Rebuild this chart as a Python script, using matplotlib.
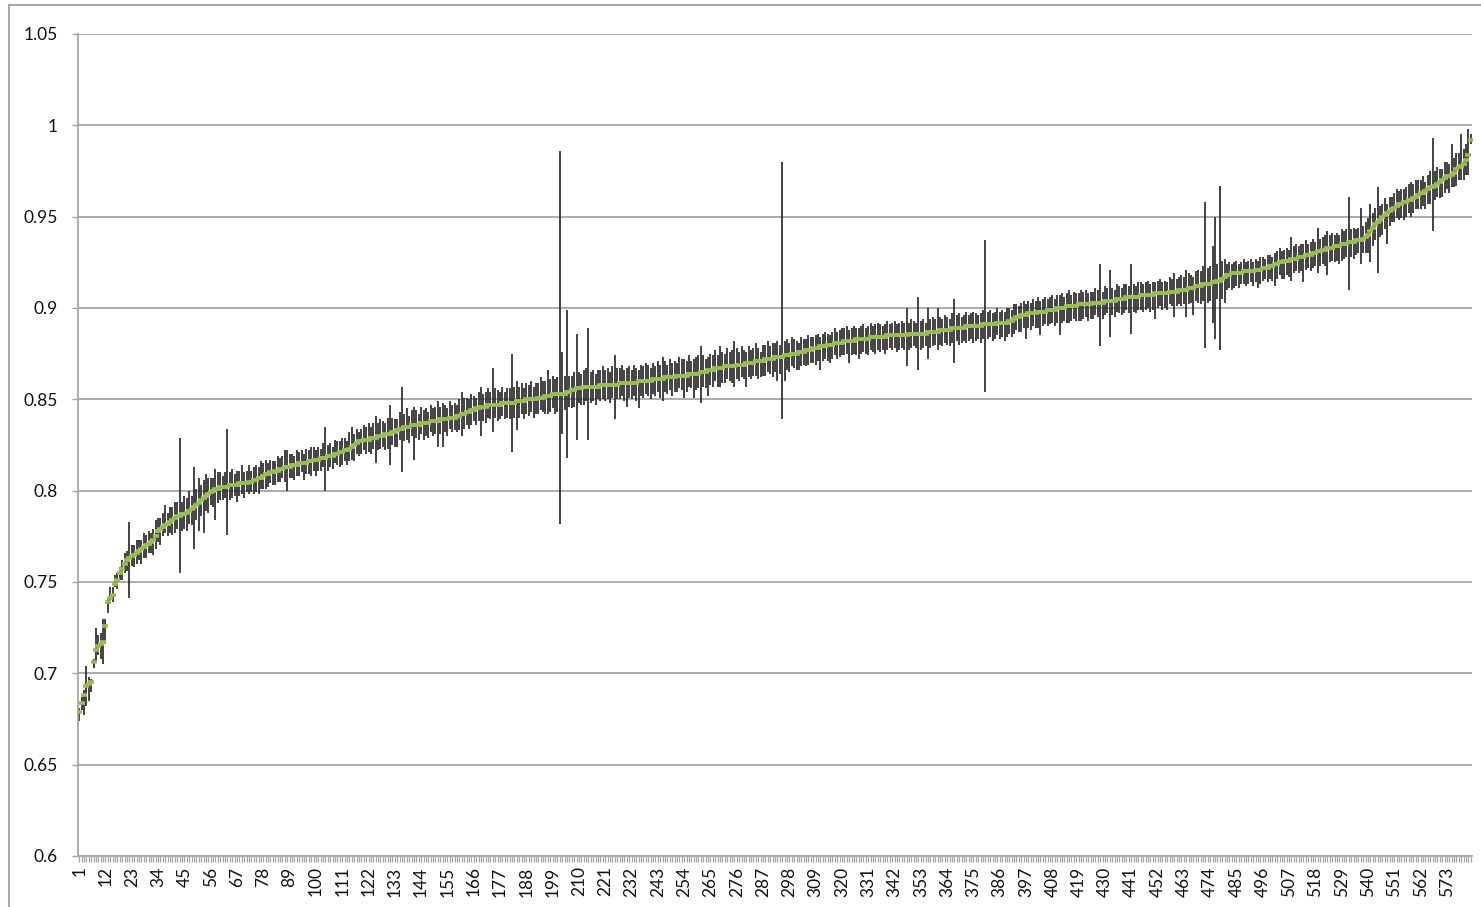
import numpy as np
import matplotlib
matplotlib.use("Agg")
import matplotlib.pyplot as plt
from matplotlib.patches import Rectangle

# mean value per category (sorted ascending)
mean_vals = [
    0.679, 0.684, 0.688, 0.693, 0.694, 0.695, 0.706, 0.713, 0.715, 0.716,
    0.717, 0.726, 0.739, 0.741, 0.743, 0.749, 0.751, 0.755, 0.757, 0.760,
    0.762, 0.763, 0.764, 0.765, 0.766, 0.767, 0.768, 0.769, 0.770, 0.771,
    0.772, 0.773, 0.775, 0.778, 0.779, 0.780, 0.781, 0.782, 0.783, 0.784,
    0.785, 0.786, 0.786, 0.787, 0.787, 0.788, 0.789, 0.790, 0.791, 0.792,
    0.793, 0.795, 0.796, 0.797, 0.798, 0.799, 0.800, 0.801, 0.801, 0.802,
    0.802, 0.802, 0.802, 0.803, 0.803, 0.803, 0.803, 0.804, 0.804, 0.804,
    0.804, 0.805, 0.805, 0.806, 0.806, 0.807, 0.807, 0.808, 0.809, 0.809,
    0.810, 0.810, 0.811, 0.811, 0.812, 0.812, 0.813, 0.813, 0.813, 0.814,
    0.814, 0.814, 0.815, 0.815, 0.815, 0.815, 0.816, 0.816, 0.817, 0.817,
    0.817, 0.818, 0.818, 0.818, 0.819, 0.819, 0.819, 0.820, 0.820, 0.821,
    0.821, 0.822, 0.822, 0.823, 0.824, 0.825, 0.826, 0.827, 0.827, 0.828,
    0.828, 0.828, 0.829, 0.829, 0.829, 0.830, 0.830, 0.830, 0.831, 0.831,
    0.831, 0.832, 0.832, 0.833, 0.834, 0.834, 0.835, 0.835, 0.835, 0.836,
    0.836, 0.836, 0.836, 0.837, 0.837, 0.837, 0.837, 0.838, 0.838, 0.838,
    0.838, 0.839, 0.839, 0.839, 0.839, 0.840, 0.840, 0.840, 0.841, 0.841,
    0.842, 0.842, 0.843, 0.843, 0.844, 0.844, 0.845, 0.845, 0.846, 0.846,
    0.846, 0.847, 0.847, 0.847, 0.847, 0.847, 0.847, 0.848, 0.848, 0.848,
    0.848, 0.848, 0.848, 0.849, 0.849, 0.849, 0.849, 0.850, 0.850, 0.850,
    0.850, 0.850, 0.851, 0.851, 0.851, 0.852, 0.852, 0.852, 0.853, 0.853,
    0.853, 0.853, 0.853, 0.853, 0.854, 0.854, 0.855, 0.855, 0.856, 0.856,
    0.856, 0.857, 0.857, 0.857, 0.857, 0.857, 0.857, 0.857, 0.858, 0.858,
    0.858, 0.858, 0.858, 0.858, 0.858, 0.858, 0.859, 0.859, 0.859, 0.859,
    0.859, 0.859, 0.859, 0.859, 0.860, 0.860, 0.860, 0.860, 0.860, 0.860,
    0.861, 0.861, 0.861, 0.861, 0.861, 0.862, 0.862, 0.862, 0.862, 0.862,
    0.863, 0.863, 0.863, 0.863, 0.863, 0.864, 0.864, 0.864, 0.864, 0.864,
    0.865, 0.865, 0.865, 0.866, 0.866, 0.866, 0.867, 0.867, 0.867, 0.867,
    0.868, 0.868, 0.868, 0.868, 0.868, 0.869, 0.869, 0.869, 0.869, 0.870,
    0.870, 0.870, 0.870, 0.871, 0.871, 0.871, 0.871, 0.872, 0.872, 0.872,
    0.872, 0.873, 0.873, 0.873, 0.873, 0.874, 0.874, 0.874, 0.875, 0.875,
    0.875, 0.876, 0.876, 0.876, 0.877, 0.877, 0.877, 0.878, 0.878, 0.878,
    0.879, 0.879, 0.879, 0.880, 0.880, 0.880, 0.881, 0.881, 0.881, 0.881,
    0.882, 0.882, 0.882, 0.882, 0.882, 0.883, 0.883, 0.883, 0.883, 0.883,
    0.883, 0.884, 0.884, 0.884, 0.884, 0.884, 0.884, 0.884, 0.885, 0.885,
    0.885, 0.885, 0.885, 0.885, 0.885, 0.885, 0.885, 0.886, 0.886, 0.886,
    0.886, 0.886, 0.886, 0.886, 0.886, 0.887, 0.887, 0.887, 0.887, 0.887,
    0.888, 0.888, 0.888, 0.888, 0.888, 0.889, 0.889, 0.889, 0.889, 0.889,
    0.889, 0.890, 0.890, 0.890, 0.890, 0.890, 0.890, 0.890, 0.891, 0.891,
    0.891, 0.891, 0.891, 0.891, 0.892, 0.892, 0.892, 0.892, 0.892, 0.893,
    0.893, 0.894, 0.895, 0.895, 0.896, 0.896, 0.896, 0.897, 0.897, 0.897,
    0.897, 0.898, 0.898, 0.898, 0.898, 0.899, 0.899, 0.899, 0.899, 0.900,
    0.900, 0.900, 0.900, 0.901, 0.901, 0.901, 0.901, 0.901, 0.902, 0.902,
    0.902, 0.902, 0.902, 0.902, 0.903, 0.903, 0.903, 0.903, 0.903, 0.904,
    0.904, 0.904, 0.904, 0.904, 0.905, 0.905, 0.905, 0.905, 0.906, 0.906,
    0.906, 0.906, 0.906, 0.906, 0.907, 0.907, 0.907, 0.907, 0.907, 0.907,
    0.908, 0.908, 0.908, 0.908, 0.908, 0.908, 0.909, 0.909, 0.909, 0.909,
    0.910, 0.910, 0.910, 0.910, 0.911, 0.911, 0.911, 0.912, 0.912, 0.912,
    0.913, 0.913, 0.913, 0.913, 0.914, 0.914, 0.915, 0.915, 0.916, 0.917,
    0.918, 0.918, 0.919, 0.919, 0.919, 0.919, 0.919, 0.920, 0.920, 0.920,
    0.920, 0.920, 0.921, 0.921, 0.921, 0.922, 0.922, 0.922, 0.923, 0.923,
    0.924, 0.924, 0.925, 0.925, 0.926, 0.926, 0.926, 0.927, 0.927, 0.927,
    0.928, 0.928, 0.928, 0.929, 0.929, 0.929, 0.930, 0.930, 0.931, 0.931,
    0.932, 0.932, 0.933, 0.933, 0.933, 0.934, 0.934, 0.934, 0.935, 0.935,
    0.935, 0.936, 0.936, 0.936, 0.937, 0.937, 0.937, 0.938, 0.939, 0.940,
    0.942, 0.944, 0.946, 0.947, 0.948, 0.950, 0.951, 0.952, 0.953, 0.954,
    0.955, 0.956, 0.957, 0.957, 0.958, 0.958, 0.959, 0.959, 0.960, 0.961,
    0.962, 0.963, 0.963, 0.964, 0.965, 0.966, 0.966, 0.967, 0.968, 0.969,
    0.970, 0.971, 0.972, 0.972, 0.973, 0.974, 0.976, 0.977, 0.978, 0.979,
    0.981, 0.984, 0.992,
]

# distance from mean down to the low end, in thousandths
err_lo = [
    5, 4, 11, 11, 9, 5, 3, 6, 5, 8, 12, 10, 6, 3, 4, 2, 5, 4, 6, 5,
    6, 22, 5, 7, 6, 5, 8, 6, 7, 5, 6, 8, 7, 6, 9, 5, 4, 7, 6, 8,
    8, 7, 31, 9, 8, 10, 7, 9, 23, 8, 15, 9, 19, 8, 10, 7, 9, 17, 8, 7,
    7, 6, 26, 8, 7, 6, 9, 7, 6, 8, 5, 7, 6, 8, 7, 9, 6, 7, 8, 7,
    6, 7, 8, 6, 7, 5, 8, 13, 6, 7, 8, 6, 7, 5, 9, 6, 7, 8, 6, 9,
    6, 7, 5, 18, 8, 6, 7, 5, 6, 8, 7, 6, 8, 7, 7, 9, 6, 8, 7, 6,
    8, 7, 9, 6, 14, 8, 7, 6, 9, 8, 17, 7, 8, 9, 6, 24, 8, 7, 9, 6,
    19, 7, 8, 6, 9, 7, 8, 6, 8, 7, 14, 8, 15, 7, 9, 6, 8, 7, 9, 8,
    12, 8, 7, 9, 8, 6, 9, 7, 16, 8, 9, 7, 8, 15, 7, 9, 8, 7, 9, 8,
    9, 27, 8, 16, 9, 7, 10, 8, 9, 7, 10, 8, 9, 7, 8, 10, 10, 9, 8, 11,
    10, 71, 22, 9, 36, 8, 10, 9, 28, 8, 9, 10, 8, 29, 9, 8, 10, 7, 9, 8,
    9, 8, 10, 7, 19, 8, 9, 7, 10, 13, 8, 9, 7, 10, 15, 8, 9, 7, 8, 10,
    8, 9, 7, 10, 12, 8, 9, 7, 10, 8, 9, 7, 8, 12, 9, 7, 8, 13, 9, 8,
    17, 8, 9, 14, 8, 9, 7, 10, 10, 8, 9, 7, 8, 9, 11, 8, 9, 7, 8, 13,
    8, 9, 7, 8, 10, 9, 8, 9, 7, 8, 10, 8, 13, 9, 34, 14, 8, 9, 7, 8,
    9, 10, 8, 7, 9, 8, 7, 8, 9, 7, 13, 8, 7, 9, 10, 8, 7, 9, 8, 7,
    8, 7, 12, 8, 7, 9, 11, 8, 7, 8, 9, 7, 8, 9, 7, 8, 7, 9, 8, 7,
    8, 7, 9, 8, 7, 8, 17, 9, 8, 7, 8, 20, 9, 8, 7, 15, 9, 8, 7, 10,
    8, 9, 7, 8, 9, 8, 19, 7, 9, 8, 7, 9, 8, 7, 9, 8, 7, 9, 8, 37,
    8, 7, 9, 8, 7, 9, 8, 10, 8, 7, 9, 8, 7, 8, 9, 7, 13, 8, 9, 7,
    8, 9, 13, 8, 7, 9, 8, 7, 9, 8, 15, 8, 7, 9, 9, 8, 7, 8, 9, 9,
    8, 7, 9, 8, 9, 7, 8, 24, 9, 8, 7, 20, 8, 9, 7, 8, 9, 8, 7, 9,
    20, 8, 9, 7, 8, 9, 8, 7, 9, 8, 14, 8, 7, 9, 8, 9, 7, 8, 14, 8,
    8, 9, 8, 15, 9, 8, 15, 8, 9, 10, 9, 35, 10, 9, 22, 31, 10, 38, 11, 14,
    8, 7, 9, 8, 7, 8, 6, 7, 8, 7, 6, 8, 7, 10, 8, 7, 6, 8, 7, 8,
    12, 8, 7, 9, 10, 8, 9, 12, 8, 7, 9, 8, 14, 8, 7, 9, 8, 7, 12, 8,
    8, 9, 15, 8, 7, 9, 8, 10, 9, 8, 7, 26, 8, 9, 8, 7, 13, 8, 9, 10,
    17, 10, 9, 28, 9, 10, 8, 17, 8, 7, 8, 7, 9, 8, 10, 8, 7, 9, 8, 7,
    8, 9, 7, 10, 8, 9, 24, 8, 7, 9, 9, 8, 7, 9, 7, 8, 9, 7, 8, 9,
    8, 11, 2,
]

# distance from mean up to the high end, in thousandths
err_hi = [
    2, 3, 3, 11, 4, 2, 2, 12, 6, 6, 13, 4, 3, 6, 4, 5, 4, 3, 5, 6,
    5, 20, 6, 5, 7, 6, 5, 8, 6, 7, 5, 6, 9, 7, 6, 8, 11, 6, 8, 7,
    9, 8, 43, 7, 10, 8, 11, 7, 22, 9, 14, 8, 10, 12, 9, 8, 7, 11, 9, 8,
    6, 8, 32, 7, 9, 6, 8, 7, 10, 6, 7, 9, 6, 7, 8, 6, 9, 7, 8, 6,
    7, 6, 5, 8, 6, 7, 9, 9, 7, 6, 5, 8, 6, 7, 5, 8, 6, 8, 7, 5,
    7, 5, 8, 17, 6, 7, 5, 8, 7, 6, 8, 7, 5, 9, 11, 6, 8, 5, 7, 8,
    7, 9, 6, 8, 12, 7, 9, 8, 6, 9, 16, 8, 7, 6, 9, 23, 7, 10, 6, 8,
    10, 8, 6, 9, 7, 8, 6, 9, 7, 8, 11, 7, 9, 8, 6, 9, 7, 8, 6, 9,
    12, 9, 8, 7, 9, 8, 6, 9, 11, 7, 8, 9, 7, 20, 9, 8, 7, 9, 6, 8,
    8, 27, 9, 11, 8, 10, 7, 9, 8, 10, 7, 9, 8, 11, 9, 8, 14, 9, 10, 8,
    9, 133, 23, 10, 45, 9, 8, 10, 30, 9, 8, 9, 10, 32, 8, 9, 7, 9, 8, 10,
    8, 9, 7, 10, 16, 9, 8, 10, 7, 8, 9, 7, 10, 8, 6, 9, 8, 10, 9, 7,
    9, 7, 10, 8, 12, 9, 7, 10, 8, 9, 7, 10, 9, 9, 8, 10, 7, 8, 9, 10,
    14, 9, 7, 7, 9, 8, 10, 7, 12, 9, 7, 10, 8, 9, 14, 9, 7, 10, 8, 6,
    9, 7, 8, 10, 7, 5, 9, 8, 10, 7, 9, 8, 9, 7, 107, 8, 9, 7, 9, 8,
    7, 5, 8, 7, 6, 8, 7, 6, 7, 8, 5, 7, 8, 6, 5, 7, 8, 6, 7, 8,
    7, 8, 6, 7, 8, 6, 6, 7, 8, 6, 7, 8, 6, 7, 8, 7, 6, 7, 8, 6,
    7, 8, 6, 7, 8, 7, 15, 6, 8, 7, 6, 20, 7, 8, 6, 13, 7, 8, 7, 13,
    7, 6, 8, 7, 6, 8, 16, 7, 8, 6, 7, 8, 6, 7, 8, 7, 6, 7, 8, 46,
    7, 8, 6, 7, 8, 6, 7, 6, 8, 7, 6, 8, 7, 6, 7, 8, 6, 7, 6, 8,
    7, 8, 6, 7, 8, 6, 7, 8, 6, 7, 7, 8, 6, 7, 9, 6, 8, 7, 6, 8,
    7, 8, 6, 7, 6, 8, 7, 21, 6, 8, 7, 17, 7, 6, 8, 7, 6, 8, 7, 6,
    18, 7, 6, 8, 7, 6, 7, 8, 6, 7, 6, 7, 8, 6, 7, 6, 8, 7, 10, 7,
    7, 8, 7, 11, 8, 7, 6, 8, 9, 8, 10, 45, 9, 10, 20, 36, 9, 52, 10, 10,
    6, 7, 5, 6, 7, 5, 6, 7, 5, 6, 7, 5, 6, 5, 7, 6, 5, 7, 6, 5,
    6, 7, 8, 6, 6, 7, 6, 12, 7, 8, 6, 7, 7, 8, 6, 7, 8, 6, 13, 7,
    7, 8, 9, 7, 8, 6, 7, 6, 8, 7, 8, 25, 7, 8, 6, 7, 18, 7, 8, 9,
    15, 8, 9, 19, 8, 7, 9, 5, 8, 7, 8, 9, 7, 8, 7, 8, 9, 10, 8, 9,
    8, 7, 9, 5, 8, 9, 27, 8, 9, 7, 6, 9, 8, 7, 17, 8, 9, 8, 17, 8,
    9, 14, 3,
]

y_ticks = [0.6, 0.65, 0.7, 0.75, 0.8, 0.85, 0.9, 0.95, 1.0, 1.05]

n = len(mean_vals)
cats = np.arange(1, n + 1)
mean = np.array(mean_vals)
low = mean - np.array(err_lo[:n]) / 1000.0
high = mean + np.array(err_hi[:n]) / 1000.0

plt.rcParams['font.family'] = ['Lato', 'DejaVu Sans']
grey = '#a6a6a6'

W, H = 1481, 907
fig = plt.figure(figsize=(W / 100, H / 100), dpi=100)
ax = fig.add_axes([78 / W, 1 - 856 / H, (1472 - 78) / W, (856 - 34) / H])

ax.vlines(cats, low, high, color='#2b2b2b', lw=1.25, zorder=2)
ax.plot(cats, mean, ls='none', marker='_', ms=5, mew=2.6,
        color='#9bbb59', zorder=3)

ax.set_xlim(0.5, n + 0.5)
ax.set_ylim(0.6, 1.05)
ax.set_yticks(y_ticks)
ax.set_yticklabels([f'{v:g}' for v in y_ticks])
ax.yaxis.grid(True, color=grey, lw=1.3)
ax.set_axisbelow(True)

lab_pos = list(range(1, n + 1, 11))
ax.set_xticks(lab_pos)
ax.set_xticklabels([str(p) for p in lab_pos], rotation=90)
ax.set_xticks(cats, minor=True)

ax.tick_params(axis='y', direction='out', length=4.5, width=1, color=grey,
               labelsize=12.5, pad=10, labelcolor='#111111')
ax.tick_params(axis='x', which='both', direction='out', length=4.5, width=0.9,
               color=grey, labelsize=12.5, pad=3, labelcolor='#111111')

for s in ['top', 'right']:
    ax.spines[s].set_visible(False)
for s in ['left', 'bottom']:
    ax.spines[s].set_color(grey)
    ax.spines[s].set_linewidth(1.3)

# chart area frame (cut off on the right and bottom in the original)
fig.patches.append(Rectangle((9 / W, -0.05), 1.2, 1.05 - 5 / H,
                             transform=fig.transFigure, fill=False,
                             edgecolor='#a8a8a8', lw=1.5))

fig.savefig('out.png', dpi=100)
